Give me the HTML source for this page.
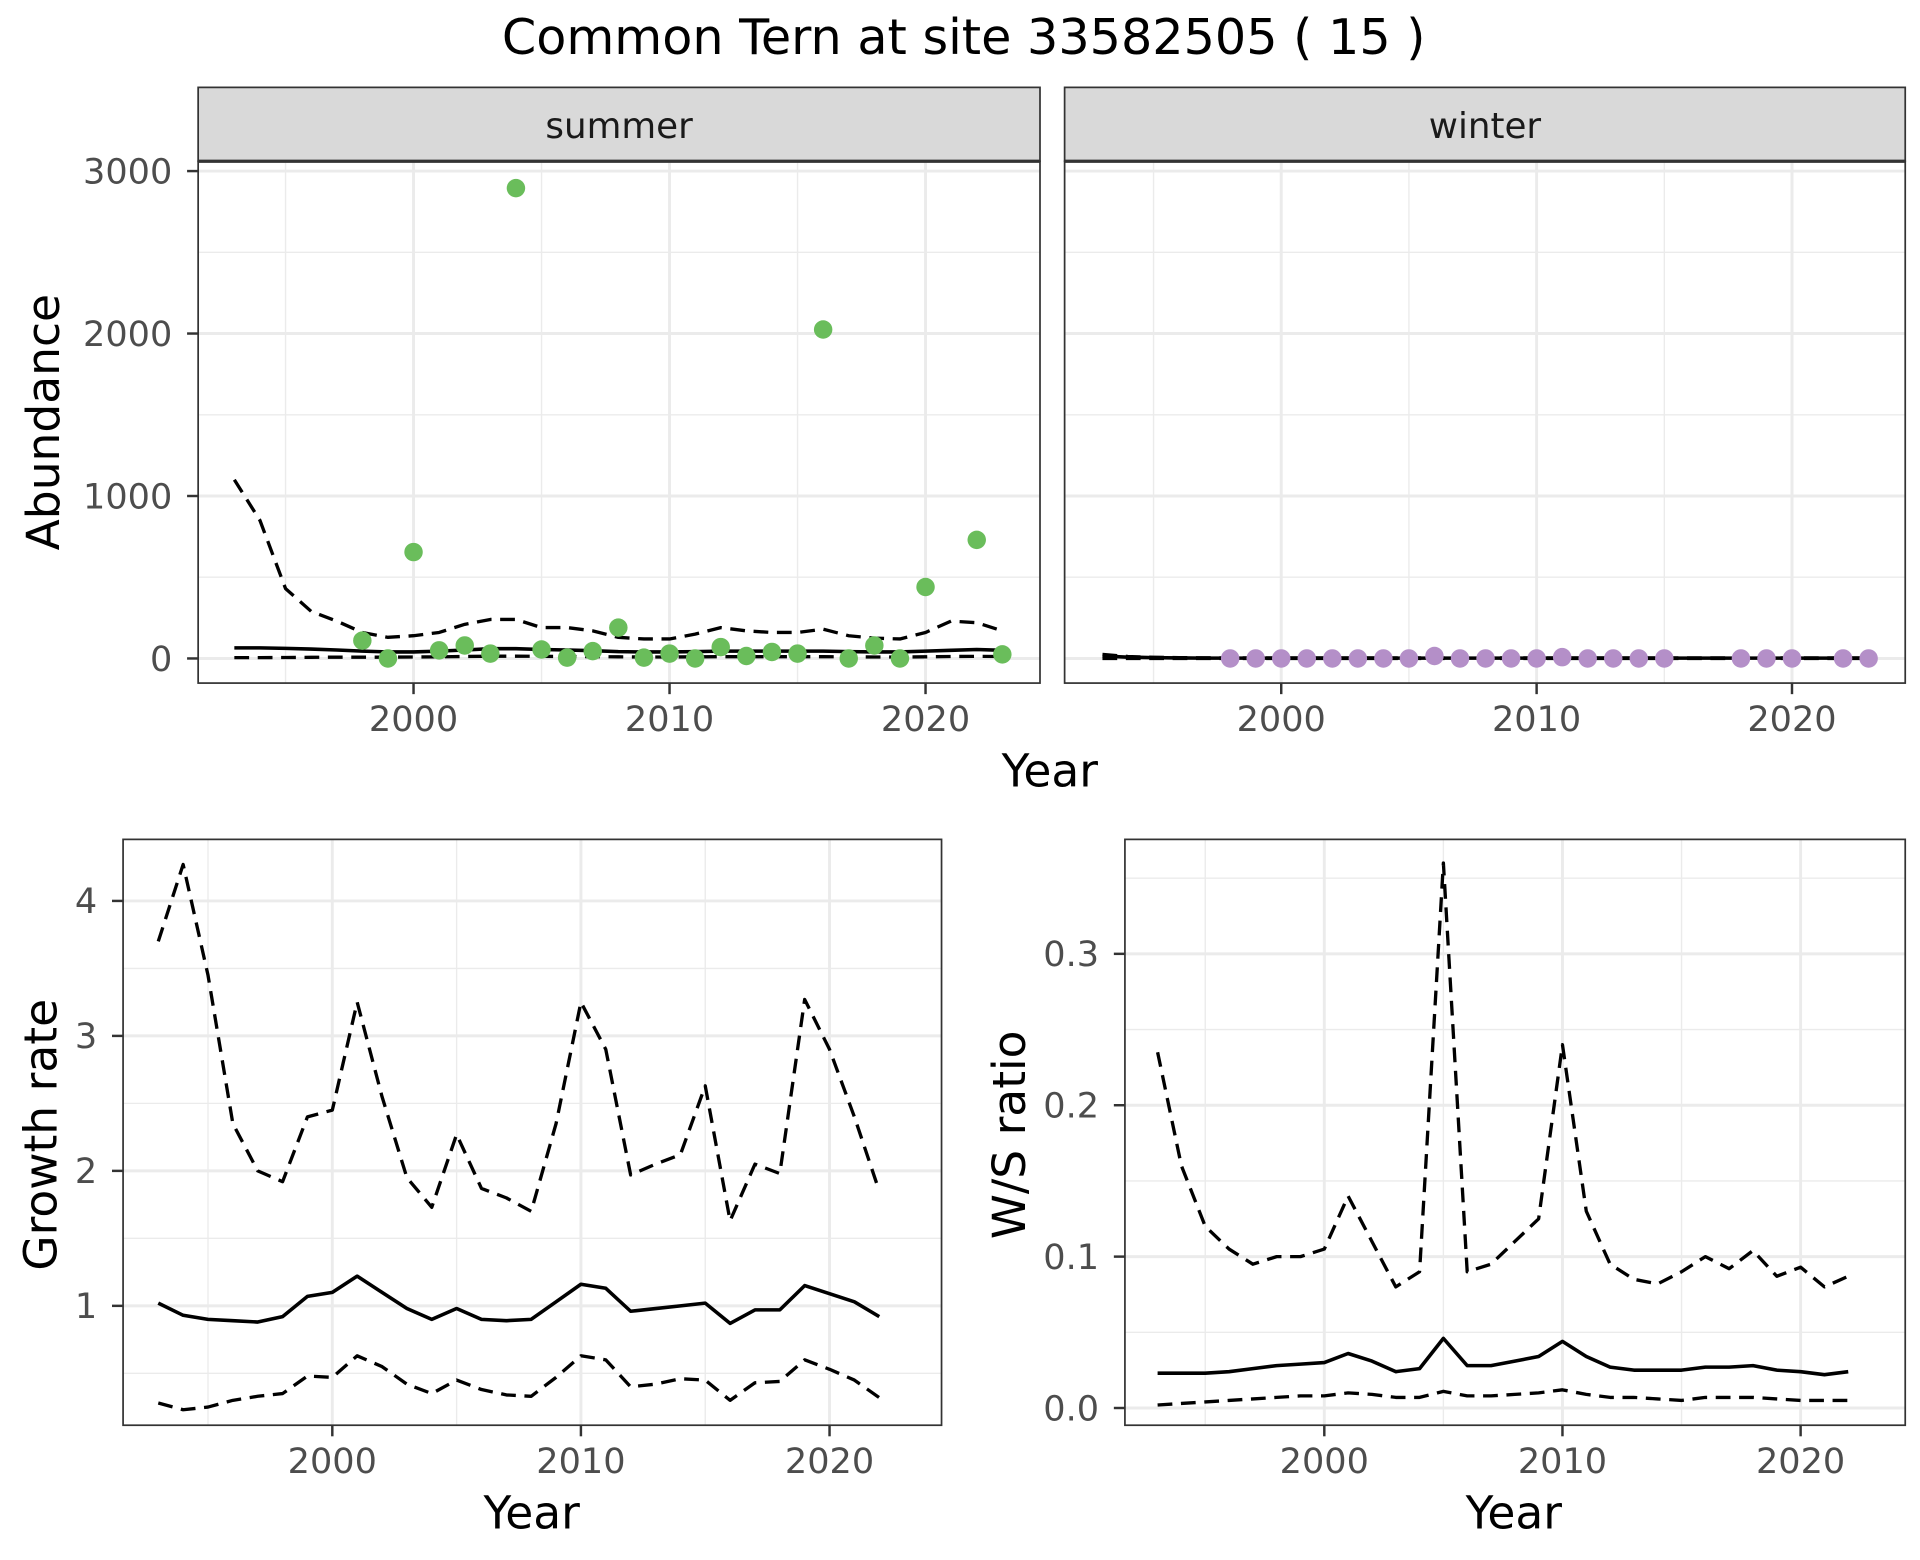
<!DOCTYPE html>
<html><head><meta charset="utf-8"><style>
html,body{margin:0;padding:0;background:#fff;}
svg{display:block;font-family:"DejaVu Sans","Liberation Sans",sans-serif;}
</style></head><body>
<svg id="c" width="1920" height="1560" viewBox="0 0 1560 1267.5" preserveAspectRatio="none" xmlns="http://www.w3.org/2000/svg">
<rect width="1560" height="1267.5" fill="#fff"/>
<text x="783" y="44" font-size="40" text-anchor="middle" fill="#000">Common Tern at site 33582505 ( 15 )</text>
</svg>
<script>
// ---- data ----
const summerYears=[1998,1999,2000,2001,2002,2003,2004,2005,2006,2007,2008,2009,2010,2011,2012,2013,2014,2015,2016,2017,2018,2019,2020,2022,2023];
const summerCounts=[110,0,655,50,80,30,2895,55,5,45,190,5,30,0,70,15,40,30,2025,0,80,0,440,730,25];
const trendYears=[1993,1994,1995,1996,1997,1998,1999,2000,2001,2002,2003,2004,2005,2006,2007,2008,2009,2010,2011,2012,2013,2014,2015,2016,2017,2018,2019,2020,2021,2022,2023];
const summerMean=[65,65,62,58,52,45,40,40,45,52,60,60,55,52,48,42,40,40,42,45,45,45,45,45,42,40,40,45,50,55,50];
const summerUpper=[1100,850,430,290,230,160,130,140,160,210,240,240,190,190,170,130,120,120,150,190,170,160,160,180,140,125,120,160,230,220,170];
const summerLower=[5,5,6,7,8,8,8,9,10,12,14,14,13,12,11,10,9,9,10,11,11,11,11,11,10,9,9,10,12,13,12];
const winterYears=[1998,1999,2000,2001,2002,2003,2004,2005,2006,2007,2008,2009,2010,2011,2012,2013,2014,2015,2018,2019,2020,2022,2023];
const winterCounts=[0,0,0,0,0,0,0,0,15,0,0,0,0,8,0,0,0,0,0,0,0,0,0];
const winterMean=[15,8,5,3,2,2,2,2,2,2,2,2,2,2,2,2,2,2,2,2,2,2,2,2,2,2,2,2,2,2,2];
const winterUpper=[25,12,7,5,4,3,3,3,3,3,3,3,3,3,3,3,3,3,3,3,3,3,3,3,3,3,3,3,3,3,3];
const winterLower=[0,0,0,0,0,0,0,0,0,0,0,0,0,0,0,0,0,0,0,0,0,0,0,0,0,0,0,0,0,0,0];
const rateYears=[1993,1994,1995,1996,1997,1998,1999,2000,2001,2002,2003,2004,2005,2006,2007,2008,2009,2010,2011,2012,2013,2014,2015,2016,2017,2018,2019,2020,2021,2022];
const rateMean=[1.02,0.93,0.9,0.89,0.88,0.92,1.07,1.1,1.22,1.1,0.98,0.9,0.98,0.9,0.89,0.9,1.03,1.16,1.13,0.96,0.98,1.0,1.02,0.87,0.97,0.97,1.15,1.09,1.03,0.92];
const rateUpper=[3.7,4.27,3.45,2.35,2.0,1.92,2.4,2.45,3.25,2.55,1.95,1.73,2.27,1.87,1.8,1.7,2.35,3.25,2.9,1.97,2.05,2.12,2.63,1.63,2.05,1.98,3.27,2.9,2.4,1.85];
const rateLower=[0.28,0.23,0.25,0.3,0.33,0.35,0.48,0.47,0.63,0.55,0.42,0.35,0.45,0.38,0.34,0.33,0.47,0.63,0.6,0.4,0.42,0.46,0.45,0.3,0.43,0.44,0.6,0.53,0.45,0.32];
const ratioMean=[0.023,0.023,0.023,0.024,0.026,0.028,0.029,0.030,0.036,0.031,0.024,0.026,0.046,0.028,0.028,0.031,0.034,0.044,0.034,0.027,0.025,0.025,0.025,0.027,0.027,0.028,0.025,0.024,0.022,0.024];
const ratioUpper=[0.235,0.16,0.12,0.105,0.095,0.1,0.1,0.105,0.14,0.11,0.08,0.09,0.36,0.09,0.095,0.11,0.125,0.24,0.13,0.095,0.085,0.082,0.09,0.1,0.092,0.104,0.087,0.093,0.08,0.087];
const ratioLower=[0.002,0.003,0.004,0.005,0.006,0.007,0.008,0.008,0.01,0.009,0.007,0.007,0.011,0.008,0.008,0.009,0.01,0.012,0.009,0.007,0.007,0.006,0.005,0.007,0.007,0.007,0.006,0.005,0.005,0.005];
const xTicks=[2000,2010,2020];
const xMinor=[1995,2005,2015];
const abundTicks=[0,1000,2000,3000];
const abundMinor=[500,1500,2500];
const rateTicks=[1,2,3,4];
const rateMinor=[0.5,1.5,2.5,3.5];
const ratioTicks=[0,0.1,0.2,0.3];
const ratioMinor=[0.05,0.15,0.25,0.35];

const svg=document.getElementById('c');
const NS='http://www.w3.org/2000/svg';
function mk(tag,attrs,parent){const e=document.createElementNS(NS,tag);for(const k in attrs)e.setAttribute(k,attrs[k]);(parent||svg).appendChild(e);return e;}
function lin(d0,d1,r0,r1){return v=>r0+(v-d0)*(r1-r0)/(d1-d0);}

function panel(p){
  const g=mk('g',{});
  
  
  const cp='clip-'+p.name;
  const cl=mk('clipPath',{id:cp},g);mk('rect',{x:p.x0,y:p.y0,width:p.x1-p.x0,height:p.y1-p.y0},cl);
  p.yMinor.forEach(v=>{const l=mk('line',{x1:p.x0,x2:p.x1,y1:p.sy(v),y2:p.sy(v),stroke:'#ebebeb','stroke-width':1.1,'clip-path':`url(#${cp})`},g);});
  xMinor.forEach(v=>{const l=mk('line',{x1:p.sx(v),x2:p.sx(v),y1:p.y0,y2:p.y1,stroke:'#ebebeb','stroke-width':1.1},g);});
  p.yTicks.forEach(v=>{const l=mk('line',{x1:p.x0,x2:p.x1,y1:p.sy(v),y2:p.sy(v),stroke:'#ebebeb','stroke-width':2.4},g);});
  xTicks.forEach(v=>{const l=mk('line',{x1:p.sx(v),x2:p.sx(v),y1:p.y0,y2:p.y1,stroke:'#ebebeb','stroke-width':2.4},g);});
  const series=[[p.lower,'12,7',2.7,'lower-bound-line'],[p.upper,'12,7',2.7,'upper-bound-line'],[p.mean,null,2.9,'mean-line']];
  series.forEach(([vals,dash,w,name])=>{
    const d=vals.map((v,i)=>(i?'L':'M')+p.sx(p.years[i]).toFixed(2)+','+p.sy(v).toFixed(2)).join('');
    const a={d,fill:'none',stroke:'#000','stroke-width':w,'stroke-linejoin':'round','clip-path':`url(#${cp})`};
    if(dash)a['stroke-dasharray']=dash;
    const e=mk('path',a,g);
  });
  if(p.pts){p.pts.years.forEach((yr,i)=>{const c=mk('circle',{cx:p.sx(yr),cy:p.sy(p.pts.vals[i]),r:7.5,fill:p.pts.color},g);});}
  const b=mk('rect',{x:p.x0,y:p.y0,width:p.x1-p.x0,height:p.y1-p.y0,fill:'none',stroke:'#333','stroke-width':1.4},g);
  
  if(p.yLabels){p.yTicks.forEach(v=>{
    mk('line',{x1:p.x0-9,x2:p.x0,y1:p.sy(v),y2:p.sy(v),stroke:'#333','stroke-width':2},g);
    const t=mk('text',{x:p.x0-21,y:p.sy(v)+10,'font-size':28.5,'text-anchor':'end',fill:'#4d4d4d'},g);t.textContent=p.fmt(v);
    });}
  xTicks.forEach(v=>{
    mk('line',{x1:p.sx(v),x2:p.sx(v),y1:p.y1,y2:p.y1+9,stroke:'#333','stroke-width':2},g);
    const t=mk('text',{x:p.sx(v),y:p.y1+39,'font-size':28.5,'text-anchor':'middle',fill:'#4d4d4d'},g);t.textContent=v;
    });
  if(p.strip){
    const s=mk('rect',{x:p.x0,y:71,width:p.x1-p.x0,height:60,fill:'#d9d9d9',stroke:'#333','stroke-width':1.4},g);
    
    mk('line',{x1:p.x0,x2:p.x1,y1:131,y2:131,stroke:'#333','stroke-width':2.6},g);
    const t=mk('text',{x:(p.x0+p.x1)/2,y:112,'font-size':29,'text-anchor':'middle',fill:'#1a1a1a'},g);t.textContent=p.strip;
    
  }
}
function txt(x,y,s,size,rot,name){const t=mk('text',{x,y,'font-size':size,'text-anchor':'middle',fill:'#000'});if(rot)t.setAttribute('transform',`rotate(-90 ${x} ${y})`);t.textContent=s;}

const sxTop=lin(2000,2020,336,752), sxW=lin(2000,2020,1041,1456), syA=lin(0,3000,535,139);
panel({name:'summer-panel',x0:161,x1:845,y0:131,y1:555,sx:sxTop,sy:syA,yTicks:abundTicks,yMinor:abundMinor,yLabels:true,fmt:v=>v,years:trendYears,mean:summerMean,upper:summerUpper,lower:summerLower,pts:{years:summerYears,vals:summerCounts,color:'#6abd5b'},strip:'summer'});
panel({name:'winter-panel',x0:865,x1:1548,y0:131,y1:555,sx:sxW,sy:syA,yTicks:abundTicks,yMinor:abundMinor,yLabels:false,years:trendYears,mean:winterMean,upper:winterUpper,lower:winterLower,pts:{years:winterYears,vals:winterCounts,color:'#b48fc8'},strip:'winter'});
panel({name:'growth-rate-panel',x0:100,x1:765,y0:682,y1:1158,sx:lin(2000,2020,270,674),sy:lin(1,4,1061,732),yTicks:rateTicks,yMinor:rateMinor,yLabels:true,fmt:v=>v,years:rateYears,mean:rateMean,upper:rateUpper,lower:rateLower});
panel({name:'ws-ratio-panel',x0:914,x1:1548,y0:682,y1:1158,sx:lin(2000,2020,1076,1463),sy:lin(0,0.3,1144,775),yTicks:ratioTicks,yMinor:ratioMinor,yLabels:true,fmt:v=>v.toFixed(1),years:rateYears,mean:ratioMean,upper:ratioUpper,lower:ratioLower});
txt(853,639,'Year',37,false,'x-axis-title-top');
txt(48,343,'Abundance',37,true,'y-axis-title-abundance');
txt(432,1242,'Year',37,false,'x-axis-title-growth');
txt(46,922,'Growth rate',37,true,'y-axis-title-growth');
txt(1230,1242,'Year',37,false,'x-axis-title-ratio');
txt(833,922,'W/S ratio',37,true,'y-axis-title-ratio');
</script>
</body></html>
